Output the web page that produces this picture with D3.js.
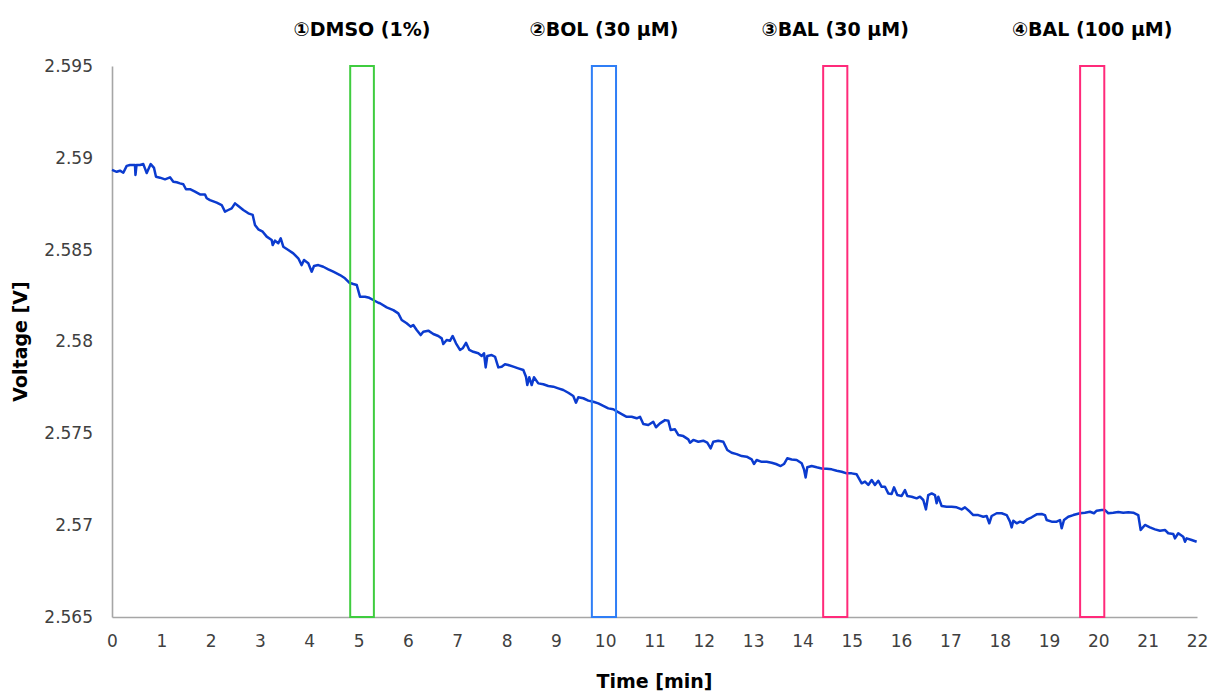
<!DOCTYPE html>
<html>
<head>
<meta charset="utf-8">
<script src="https://cdn.jsdelivr.net/npm/d3@7"></script>
<style>
  body { margin: 0; background: #fff; }
  svg text { font-family: "DejaVu Sans", Verdana, sans-serif; }
</style>
</head>
<body>
<div id="chart"></div>
<script>
// time in minutes
const timeMin = [
  0.00, 0.095, 0.162, 0.229, 0.298, 0.365, 0.466, 0.476, 0.497, 0.568,
  0.635, 0.704, 0.785, 0.852, 0.892, 0.973, 1.075, 1.176, 1.243, 1.312,
  1.379, 1.446, 1.500, 1.582, 1.683, 1.784, 1.886, 1.920, 1.987, 2.123,
  2.224, 2.291, 2.358, 2.427, 2.494, 2.561, 2.662, 2.764, 2.853, 2.899,
  2.966, 3.056, 3.137, 3.238, 3.258, 3.305, 3.372, 3.421, 3.473, 3.575,
  3.676, 3.777, 3.846, 3.893, 3.980, 4.049, 4.096, 4.183, 4.284, 4.386,
  4.487, 4.623, 4.724, 4.811, 4.893, 4.962, 5.028, 5.130, 5.217, 5.298,
  5.400, 5.434, 5.570, 5.704, 5.805, 5.874, 5.975, 6.056, 6.109, 6.178,
  6.259, 6.312, 6.413, 6.515, 6.616, 6.685, 6.718, 6.786, 6.853, 6.908,
  6.975, 7.056, 7.111, 7.178, 7.245, 7.326, 7.427, 7.496, 7.543, 7.577,
  7.610, 7.699, 7.766, 7.833, 7.902, 7.968, 8.035, 8.137, 8.238, 8.340,
  8.394, 8.421, 8.461, 8.510, 8.556, 8.644, 8.745, 8.846, 8.948, 9.049,
  9.151, 9.252, 9.353, 9.408, 9.455, 9.556, 9.658, 9.759, 9.860, 9.962,
  10.063, 10.164, 10.246, 10.335, 10.436, 10.537, 10.639, 10.706, 10.773, 10.874,
  10.975, 11.030, 11.111, 11.213, 11.280, 11.328, 11.415, 11.482, 11.584, 11.685,
  11.720, 11.787, 11.888, 11.989, 12.070, 12.139, 12.192, 12.293, 12.395, 12.476,
  12.565, 12.666, 12.768, 12.869, 12.970, 13.017, 13.072, 13.173, 13.275, 13.376,
  13.463, 13.558, 13.625, 13.692, 13.781, 13.883, 13.984, 14.031, 14.065, 14.098,
  14.187, 14.288, 14.390, 14.491, 14.593, 14.694, 14.795, 14.897, 14.998, 15.099,
  15.201, 15.268, 15.335, 15.404, 15.470, 15.537, 15.606, 15.673, 15.740, 15.809,
  15.856, 15.923, 16.012, 16.079, 16.126, 16.215, 16.316, 16.383, 16.450, 16.504,
  16.551, 16.620, 16.687, 16.721, 16.754, 16.823, 16.924, 17.026, 17.127, 17.228,
  17.295, 17.397, 17.464, 17.565, 17.666, 17.735, 17.788, 17.837, 17.938, 18.040,
  18.141, 18.208, 18.242, 18.275, 18.344, 18.411, 18.478, 18.559, 18.648, 18.749,
  18.851, 18.918, 18.952, 19.053, 19.155, 19.222, 19.256, 19.303, 19.390, 19.492,
  19.627, 19.728, 19.830, 19.911, 19.966, 20.067, 20.134, 20.201, 20.302, 20.404,
  20.505, 20.607, 20.708, 20.809, 20.858, 20.945, 21.046, 21.148, 21.249, 21.350,
  21.417, 21.519, 21.553, 21.620, 21.721, 21.756, 21.790, 21.892, 21.993
];

// voltage [V]
const voltage = [
  2.58934, 2.58924, 2.58930, 2.58919, 2.58956, 2.58961, 2.58961, 2.58907, 2.58961, 2.58961,
  2.58966, 2.58917, 2.58966, 2.58945, 2.58897, 2.58892, 2.58883, 2.58894, 2.58870, 2.58867,
  2.58861, 2.58856, 2.58829, 2.58829, 2.58816, 2.58801, 2.58801, 2.58780, 2.58770, 2.58756,
  2.58743, 2.58707, 2.58716, 2.58725, 2.58752, 2.58738, 2.58716, 2.58698, 2.58689, 2.58634,
  2.58611, 2.58598, 2.58571, 2.58553, 2.58525, 2.58549, 2.58535, 2.58562, 2.58516, 2.58498,
  2.58480, 2.58453, 2.58416, 2.58444, 2.58426, 2.58380, 2.58411, 2.58416, 2.58407, 2.58393,
  2.58380, 2.58362, 2.58344, 2.58320, 2.58313, 2.58308, 2.58244, 2.58244, 2.58238, 2.58226,
  2.58211, 2.58208, 2.58186, 2.58171, 2.58153, 2.58117, 2.58099, 2.58081, 2.58090, 2.58063,
  2.58035, 2.58053, 2.58059, 2.58041, 2.58030, 2.58017, 2.57986, 2.58008, 2.58004, 2.58030,
  2.57990, 2.57954, 2.57963, 2.57993, 2.57954, 2.57944, 2.57936, 2.57921, 2.57936, 2.57859,
  2.57921, 2.57926, 2.57917, 2.57859, 2.57863, 2.57876, 2.57872, 2.57863, 2.57854, 2.57845,
  2.57808, 2.57763, 2.57805, 2.57763, 2.57805, 2.57772, 2.57767, 2.57758, 2.57754, 2.57745,
  2.57736, 2.57721, 2.57703, 2.57667, 2.57696, 2.57691, 2.57678, 2.57672, 2.57663, 2.57649,
  2.57636, 2.57631, 2.57618, 2.57605, 2.57590, 2.57590, 2.57582, 2.57590, 2.57551, 2.57545,
  2.57563, 2.57533, 2.57554, 2.57572, 2.57569, 2.57518, 2.57522, 2.57491, 2.57485, 2.57467,
  2.57449, 2.57464, 2.57454, 2.57460, 2.57449, 2.57418, 2.57454, 2.57460, 2.57454, 2.57409,
  2.57394, 2.57387, 2.57376, 2.57373, 2.57358, 2.57333, 2.57355, 2.57345, 2.57345, 2.57340,
  2.57333, 2.57322, 2.57333, 2.57364, 2.57358, 2.57355, 2.57337, 2.57304, 2.57260, 2.57315,
  2.57322, 2.57315, 2.57309, 2.57307, 2.57304, 2.57296, 2.57291, 2.57282, 2.57282, 2.57277,
  2.57228, 2.57237, 2.57219, 2.57246, 2.57219, 2.57242, 2.57209, 2.57209, 2.57173, 2.57170,
  2.57206, 2.57164, 2.57159, 2.57191, 2.57159, 2.57155, 2.57146, 2.57155, 2.57137, 2.57086,
  2.57164, 2.57173, 2.57164, 2.57119, 2.57155, 2.57104, 2.57100, 2.57100, 2.57097, 2.57086,
  2.57097, 2.57073, 2.57055, 2.57055, 2.57046, 2.57050, 2.57010, 2.57050, 2.57065, 2.57065,
  2.57055, 2.57019, 2.56988, 2.57024, 2.57010, 2.57019, 2.57013, 2.57032, 2.57043, 2.57059,
  2.57061, 2.57055, 2.57028, 2.57019, 2.57019, 2.57028, 2.56983, 2.57028, 2.57046, 2.57055,
  2.57065, 2.57068, 2.57073, 2.57065, 2.57079, 2.57082, 2.57082, 2.57065, 2.57068, 2.57072,
  2.57068, 2.57070, 2.57068, 2.57055, 2.56974, 2.57001, 2.56988, 2.56977, 2.56970, 2.56974,
  2.56956, 2.56952, 2.56928, 2.56956, 2.56937, 2.56910, 2.56928, 2.56919, 2.56910
];

// additions (boxes) : label, start / end in minutes, colour
const addLabels = ["①DMSO (1%)", "②BOL (30 μM)", "③BAL (30 μM)", "④BAL (100 μM)"];
const addStart = [4.83, 9.73, 14.42, 19.63];
const addEnd = [5.31, 10.22, 14.91, 20.12];
const addColors = ["#3fcc3f", "#2f7ef6", "#ff2a7a", "#ff2a7a"];

const xTicks = d3.range(0, 23, 1);
const yTicks = [2.565, 2.57, 2.575, 2.58, 2.585, 2.59, 2.595];

const W = 1211, H = 693;
const margin = { top: 66, right: 14, bottom: 76, left: 112 };
const width = W - margin.left - margin.right;
const height = H - margin.top - margin.bottom;

const svg = d3.select("#chart").append("svg")
  .attr("width", W)
  .attr("height", H);

const g = svg.append("g")
  .attr("transform", `translate(${margin.left},${margin.top})`);

const x = d3.scaleLinear().domain([0, 22]).range([0, width]);
const y = d3.scaleLinear().domain([2.565, 2.595]).range([height, 0]);

// axes (no tick marks, just labels)
const xAxis = g.append("g")
  .attr("transform", `translate(0,${height})`)
  .call(d3.axisBottom(x).tickValues(xTicks).tickSize(0).tickPadding(18));

const yAxis = g.append("g")
  .call(d3.axisLeft(y).tickValues(yTicks).tickSize(0).tickPadding(19)
    .tickFormat(d => String(+d.toFixed(3))));

[xAxis, yAxis].forEach(a => {
  a.select(".domain").attr("stroke", "#a6a6a6").attr("stroke-width", 1.6);
  a.selectAll("text")
    .attr("fill", "#404040")
    .style("font-size", "17px")
    .style("font-family", '"DejaVu Sans", Verdana, sans-serif');
});

// the trace
const pts = timeMin.map((t, i) => [t, voltage[i]]);
const line = d3.line().x(d => x(d[0])).y(d => y(d[1]));

g.append("path")
  .datum(pts)
  .attr("fill", "none")
  .attr("stroke", "#0b3bcf")
  .attr("stroke-width", 2.5)
  .attr("stroke-linejoin", "round")
  .attr("d", line);

// addition boxes
g.selectAll(".addbox")
  .data(addLabels)
  .join("rect")
  .attr("class", "addbox")
  .attr("x", (d, i) => x(addStart[i]))
  .attr("width", (d, i) => x(addEnd[i]) - x(addStart[i]))
  .attr("y", y(2.595))
  .attr("height", y(2.565) - y(2.595))
  .attr("fill", "none")
  .attr("stroke", (d, i) => addColors[i])
  .attr("stroke-width", 2);

g.selectAll(".addlabel")
  .data(addLabels)
  .join("text")
  .attr("class", "addlabel")
  .attr("x", (d, i) => x((addStart[i] + addEnd[i]) / 2))
  .attr("y", -30)
  .attr("text-anchor", "middle")
  .style("font-size", "19px")
  .style("font-weight", "bold")
  .attr("fill", "#000")
  .text(d => d);

// axis titles
svg.append("text")
  .attr("x", margin.left + width / 2)
  .attr("y", 688)
  .attr("text-anchor", "middle")
  .style("font-size", "19px")
  .style("font-weight", "bold")
  .attr("fill", "#000")
  .text("Time [min]");

svg.append("text")
  .attr("transform", `translate(27,${margin.top + height / 2}) rotate(-90)`)
  .attr("text-anchor", "middle")
  .style("font-size", "19px")
  .style("font-weight", "bold")
  .attr("fill", "#000")
  .text("Voltage [V]");
</script>
</body>
</html>
